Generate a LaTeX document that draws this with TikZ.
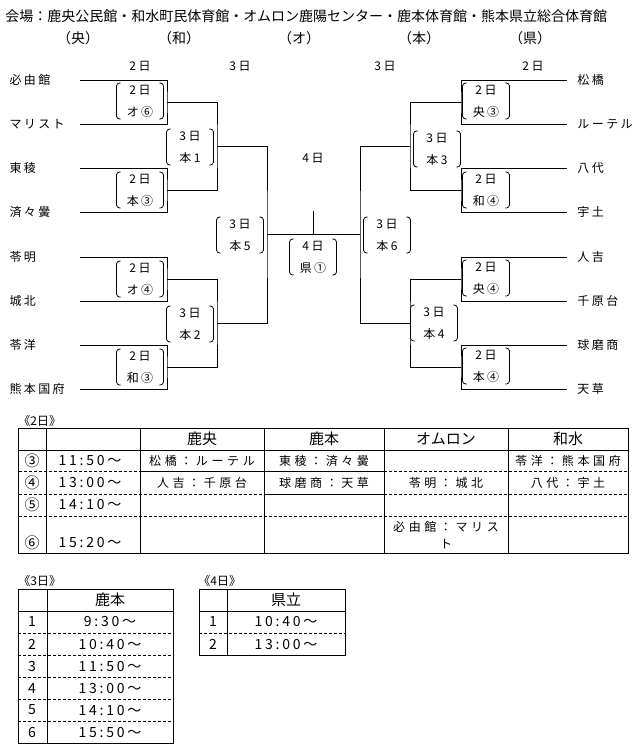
\documentclass[tikz,border=0pt]{standalone}
\usepackage{fontspec}
\usepackage{tikz}
\setmainfont{Noto Sans CJK JP}
\newfontfamily\sukima[LetterSpace=20]{Noto Sans CJK JP}
\newfontfamily\hiroi[LetterSpace=30]{Noto Sans CJK JP}
\newcommand{\kakko}[1]{%
  \draw[rounded corners=3pt, line width=.8pt] ([xshift=4pt]#1.north west) -- (#1.north west)
    -- (#1.south west) -- ([xshift=4pt]#1.south west);
  \draw[rounded corners=3pt, line width=.8pt] ([xshift=-4pt]#1.north east) -- (#1.north east)
    -- (#1.south east) -- ([xshift=-4pt]#1.south east);}
\tikzstyle{tL}=[anchor=east, text width=70pt, inner xsep=0pt, align=left, font=\fontsize{12}{14}\sukima]
\tikzstyle{tR}=[anchor=west, text width=56pt, inner xsep=10pt, align=left, font=\fontsize{12}{14}\sukima]
\tikzstyle{kk}=[align=center, minimum width=46pt, minimum height=35pt, inner sep=0pt, font=\fontsize{12}{22}\sukima]
\tikzstyle{hi}=[font=\fontsize{12}{14}\sukima]
\tikzstyle{ten}=[dash pattern=on 3pt off 2pt]
\tikzstyle{cel}=[font=\fontsize{12}{17}\hiroi, align=center]
\tikzstyle{jk}=[font=\fontsize{14}{16}\sukima]
\tikzstyle{mi}=[font=\fontsize{15}{17}\selectfont]

\begin{document}
\begin{tikzpicture}[x=1pt, y=-1pt, line width=.9pt]
  \useasboundingbox (0,0) rectangle (644,755);
  % 会場
  \node[anchor=west, inner sep=0pt, font=\fontsize{14}{16}\selectfont] (kaijo) at (5,16)
    {会場：鹿央公民館・和水町民体育館・オムロン鹿陽センター・鹿本体育館・熊本県立総合体育館};
  \foreach \r/\x [count=\i] in {央/78, 和/179, オ/299, 本/419, 県/530}
    \node[font=\fontsize{14}{16}\selectfont] (ryaku\i) at (\x,38) {（\r）};

  % 日付
  \node[hi] (d2L) at (140,66) {2日};
  \node[hi] (d3L) at (240,66) {3日};
  \node[hi] (d3R) at (385,66) {3日};
  \node[hi] (d2R) at (533,66) {2日};
  \node[hi] (d4)  at (313,158) {4日};

  % チーム
  \foreach \n/\y [count=\i] in {必由館/80, マリスト/124, 東稜/168, 済々黌/212,
      苓明/257, 城北/301, 苓洋/345, 熊本国府/389}
    \node[tL] (L\i) at (80,\y) {\n};
  \foreach \n/\y [count=\i] in {松橋/80, ルーテル/124, 八代/168, 宇土/212,
      人吉/257, 千原台/301, 球磨商/345, 天草/389}
    \node[tR] (R\i) at (567,\y) {\n};

  % 分岐点
  \coordinate (p1) at (167,102); \coordinate (p2) at (167,190);
  \coordinate (p3) at (167,279); \coordinate (p4) at (167,367);
  \coordinate (q1) at (217,146); \coordinate (q2) at (217,323);
  \coordinate (s)  at (267,234);
  \coordinate (u1) at (461,102); \coordinate (u2) at (461,190);
  \coordinate (u3) at (461,279); \coordinate (u4) at (461,367);
  \coordinate (v1) at (410,146); \coordinate (v2) at (410,323);
  \coordinate (t)  at (360,234);
  \coordinate (top) at (313,211);

  \foreach \i/\j/\k in {1/2/1, 3/4/2, 5/6/3, 7/8/4} {
    \draw (L\i.east) -| (p\k) |- (L\j.east);
    \draw (R\i.west) -| (u\k) |- (R\j.west);
  }
  \draw (p1) -| (q1) |- (p2);
  \draw (p3) -| (q2) |- (p4);
  \draw (q1) -| (s) |- (q2);
  \draw (u1) -| (v1) |- (u2);
  \draw (u3) -| (v2) |- (u4);
  \draw (v1) -| (t) |- (v2);
  \draw (s) -- (t);
  \draw (top) -- (top |- s);

  % 試合
  \node[kk] (a1) at (140,101) {2日\\オ⑥};
  \node[kk] (a2) at (140,190) {2日\\本③};
  \node[kk] (a3) at (140,279) {2日\\オ④};
  \node[kk] (a4) at (140,367) {2日\\和③};
  \node[kk] (b1) at (190,147) {3日\\本1};
  \node[kk] (b2) at (190,324) {3日\\本2};
  \node[kk] (c1) at (240,235) {3日\\本5};
  \node[kk] (f)  at (313,257) {4日\\県①};
  \node[kk] (c2) at (387,235) {3日\\本6};
  \node[kk] (e1) at (437,149) {3日\\本3};
  \node[kk] (e2) at (434,323) {3日\\本4};
  \node[kk] (g1) at (486,101) {2日\\央③};
  \node[kk] (g2) at (486,190) {2日\\和④};
  \node[kk] (g3) at (486,278) {2日\\央④};
  \node[kk] (g4) at (486,366) {2日\\本④};
  \foreach \m in {a1,a2,a3,a4,b1,b2,c1,f,c2,e1,e2,g1,g2,g3,g4}
    \kakko{\m};

  % 《2日》
  \node[anchor=west, inner sep=0pt, font=\fontsize{12}{14}\selectfont] (h2) at (18,421) {《2日》};
  \draw (18.5,428) rectangle (628,553);
  \foreach \x in {46,140,264,384,508}
    \draw (\x,428) -- (\x,553);
  \draw (18.5,450) -- (628,450);
  \draw[ten] (18.5,471.7) -- (140,471.7);
  \draw (140,471.7) -- (384,471.7);
  \draw[ten] (384,471.7) -- (628,471.7);
  \draw[ten] (18.5,494) -- (264,494);
  \draw (264,494) -- (384,494);
  \draw[ten] (384,494) -- (628,494);
  \draw[ten] (18.5,516.7) -- (628,516.7);
  \foreach \n/\x [count=\i] in {鹿央/202, 鹿本/324, オムロン/446, 和水/568}
    \node[mi] (k\i) at (\x,439) {\n};
  \foreach \n/\t/\y [count=\i] in {③/11:50～/461, ④/13:00～/483, ⑤/14:10～/505, ⑥/15:20～/543} {
    \node[mi] (ban\i) at (32,\y) {\n};
    \node[jk] (ji\i) at (90,\y) {\t};
  }
  \node[cel] (m1) at (202,461) {松橋：ルーテル};
  \node[cel] (m2) at (324,461) {東稜：済々黌};
  \node[cel] (m3) at (568,461) {苓洋：熊本国府};
  \node[cel] (m4) at (202,483) {人吉：千原台};
  \node[cel] (m5) at (324,483) {球磨商：天草};
  \node[cel] (m6) at (446,483) {苓明：城北};
  \node[cel] (m7) at (568,483) {八代：宇土};
  \node[cel] (m8) at (446,535) {必由館：マリス\\ト};

  % 《3日》
  \node[anchor=west, inner sep=0pt, font=\fontsize{12}{14}\selectfont] (h3) at (18,581) {《3日》};
  \draw (18,589) rectangle (173,743);
  \draw (47,589) -- (47,743);
  \draw (18,611) -- (173,611);
  \foreach \y in {633,655,677,699,721}
    \draw[ten] (18,\y) -- (173,\y);
  \node[mi] (k5) at (110,600) {鹿本};
  \foreach \t [count=\i] in {9:30～, 10:40～, 11:50～, 13:00～, 14:10～, 15:50～} {
    \node[jk] (n3\i) at (32,600+22*\i) {\i};
    \node[jk] (t3\i) at (110,600+22*\i) {\t};
  }

  % 《4日》
  \node[anchor=west, inner sep=0pt, font=\fontsize{12}{14}\selectfont] (h4) at (198,581) {《4日》};
  \draw (199,589) rectangle (345,655);
  \draw (227,589) -- (227,655);
  \draw (199,611) -- (345,611);
  \draw[ten] (199,633) -- (345,633);
  \node[mi] (k6) at (286,600) {県立};
  \foreach \t [count=\i] in {10:40～, 13:00～} {
    \node[jk] (n4\i) at (213,600+22*\i) {\i};
    \node[jk] (t4\i) at (286,600+22*\i) {\t};
  }
\end{tikzpicture}
\end{document}
